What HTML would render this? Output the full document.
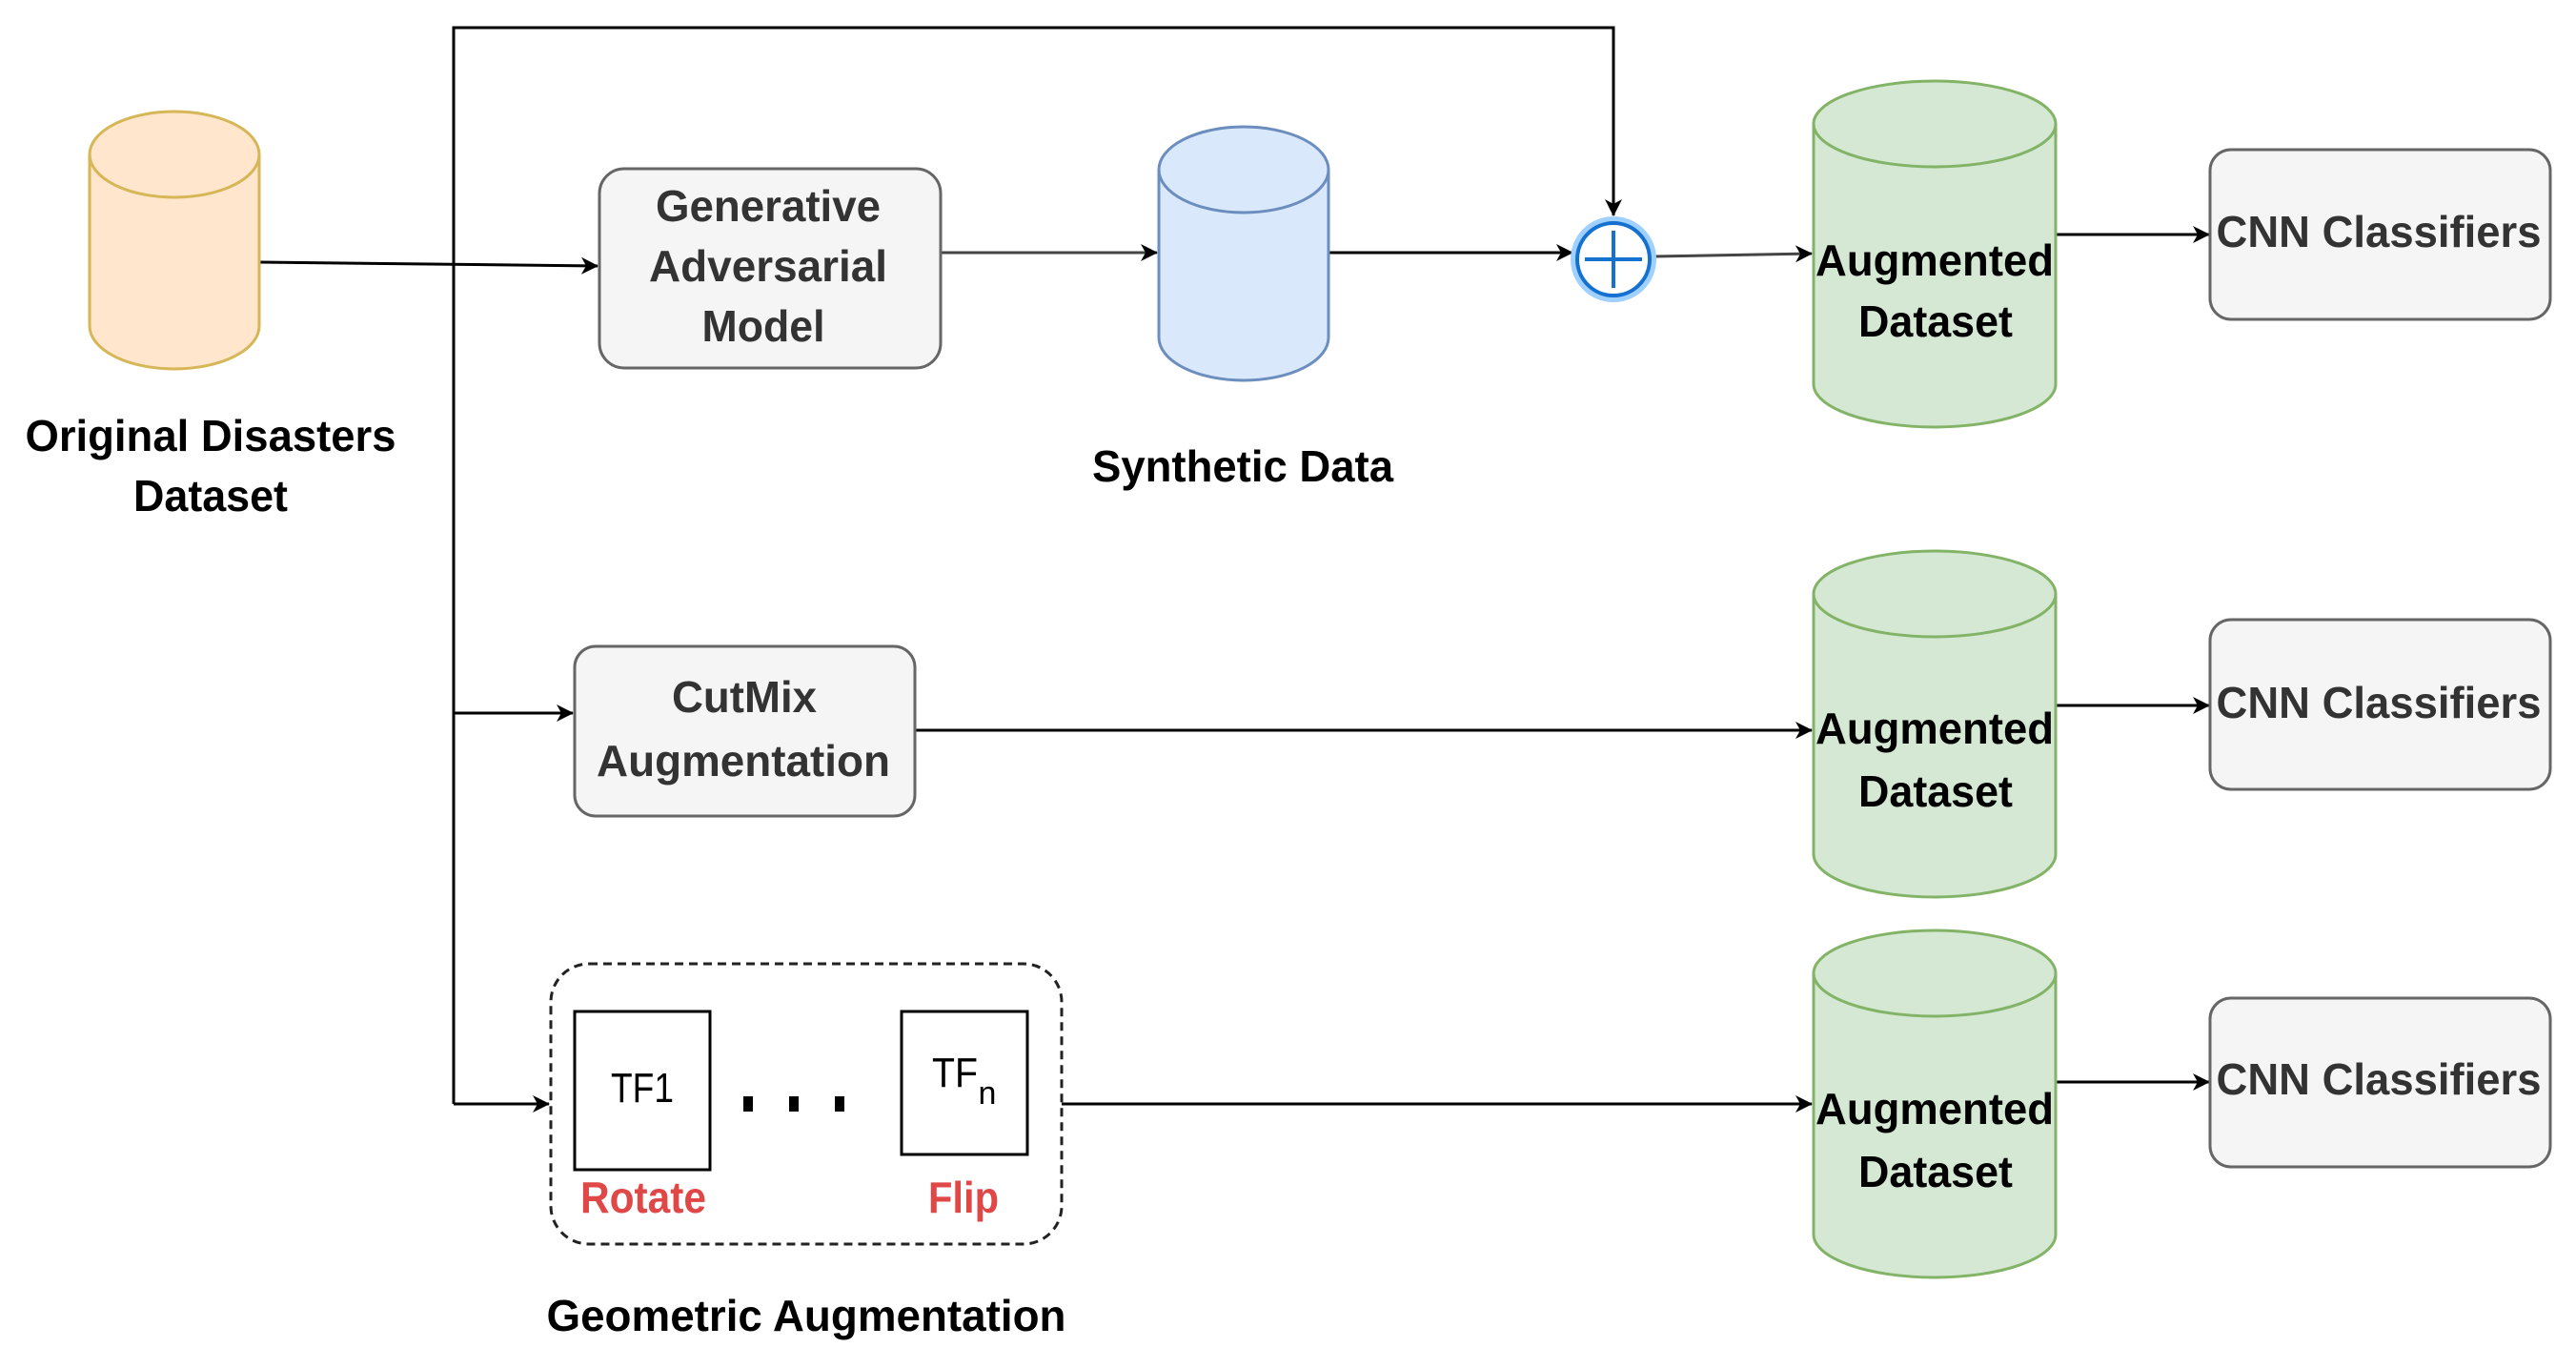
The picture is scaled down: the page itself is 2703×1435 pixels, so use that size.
<!DOCTYPE html>
<html><head><meta charset="utf-8"><style>
html,body{margin:0;padding:0;background:#fff;}
svg{display:block;}
text{font-family:"Liberation Sans",Arial,sans-serif;font-weight:bold;font-size:46px;}
</style></head><body>
<svg width="2703" height="1435" viewBox="0 0 2703 1435" xmlns="http://www.w3.org/2000/svg">
<defs>
<marker id="ar" markerWidth="10" markerHeight="10" refX="9" refY="5" orient="auto" markerUnits="userSpaceOnUse">
<path d="M0,0 L10,5 L0,10 L3,5 Z" fill="#000"/>
</marker>
<marker id="ar2" markerWidth="18" markerHeight="18" refX="17" refY="9" orient="auto" markerUnits="userSpaceOnUse">
<path d="M0,0 L18,9 L0,18 L5,9 Z" fill="#000"/>
</marker>
</defs>
<g stroke="#000" stroke-width="3" fill="none">
<!-- top loop -->
<polyline points="476,1158 476,29 1693,29 1693,226" marker-end="url(#ar2)"/>
<line x1="272" y1="275" x2="627" y2="279" marker-end="url(#ar2)"/>
<line x1="987" y1="265" x2="1214" y2="265" stroke="#444" marker-end="url(#ar2)"/>
<line x1="1394" y1="265" x2="1650" y2="265" marker-end="url(#ar2)"/>
<line x1="1735" y1="269" x2="1901" y2="266" stroke="#444" marker-end="url(#ar2)"/>
<line x1="2157" y1="246" x2="2318" y2="246" marker-end="url(#ar2)"/>
<line x1="476" y1="748" x2="601" y2="748" marker-end="url(#ar2)"/>
<line x1="960" y1="766" x2="1901" y2="766" marker-end="url(#ar2)"/>
<line x1="2157" y1="740" x2="2318" y2="740" marker-end="url(#ar2)"/>
<line x1="476" y1="1158" x2="576" y2="1158" marker-end="url(#ar2)"/>
<line x1="1114" y1="1158" x2="1901" y2="1158" marker-end="url(#ar2)"/>
<line x1="2157" y1="1135" x2="2318" y2="1135" marker-end="url(#ar2)"/>
</g>
<!-- orange cylinder -->
<path d="M94,162 L94,342 A89,45 0 0 0 272,342 L272,162 A89,45 0 0 0 94,162 Z" fill="#ffe6cc" stroke="#d6b656" stroke-width="3"/>
<path d="M94,162 A89,45 0 0 0 272,162" fill="none" stroke="#d6b656" stroke-width="3"/>
<!-- blue cylinder -->
<path d="M1216,178 L1216,354 A89,45 0 0 0 1394,354 L1394,178 A89,45 0 0 0 1216,178 Z" fill="#dae8fc" stroke="#6c8ebf" stroke-width="3"/>
<path d="M1216,178 A89,45 0 0 0 1394,178" fill="none" stroke="#6c8ebf" stroke-width="3"/>
<!-- green cylinders -->
<g fill="#d5e8d4" stroke="#82b366" stroke-width="3">
<path d="M1903,130 L1903,403 A127,45 0 0 0 2157,403 L2157,130 A127,45 0 0 0 1903,130 Z"/>
<path d="M1903,130 A127,45 0 0 0 2157,130" fill="none"/>
<path d="M1903,623 L1903,896 A127,45 0 0 0 2157,896 L2157,623 A127,45 0 0 0 1903,623 Z"/>
<path d="M1903,623 A127,45 0 0 0 2157,623" fill="none"/>
<path d="M1903,1021 L1903,1295 A127,45 0 0 0 2157,1295 L2157,1021 A127,45 0 0 0 1903,1021 Z"/>
<path d="M1903,1021 A127,45 0 0 0 2157,1021" fill="none"/>
</g>
<!-- plus circle -->
<circle cx="1693" cy="272" r="41" fill="#fff" stroke="#9fd0ff" stroke-width="8"/>
<circle cx="1693" cy="272" r="38" fill="#fff" stroke="#1571d0" stroke-width="4"/>
<line x1="1663" y1="272" x2="1723" y2="272" stroke="#1571d0" stroke-width="4"/>
<line x1="1693" y1="242" x2="1693" y2="302" stroke="#1571d0" stroke-width="4"/>
<!-- boxes -->
<g fill="#f5f5f5" stroke="#666" stroke-width="3">
<rect x="629" y="177" width="358" height="209" rx="26"/>
<rect x="603" y="678" width="357" height="178" rx="22"/>
<rect x="2319" y="157" width="357" height="178" rx="22"/>
<rect x="2319" y="650" width="357" height="178" rx="22"/>
<rect x="2319" y="1047" width="357" height="177" rx="22"/>
</g>
<rect x="578" y="1011" width="536" height="294" rx="40" fill="none" stroke="#222" stroke-width="3" stroke-dasharray="9,6"/>
<rect x="603" y="1061" width="142" height="166" fill="#fff" stroke="#000" stroke-width="3"/>
<rect x="946" y="1061" width="132" height="150" fill="#fff" stroke="#000" stroke-width="3"/>
<g fill="#000"><rect x="780" y="1150" width="10" height="16"/><rect x="828" y="1150" width="10" height="16"/><rect x="876" y="1150" width="10" height="16"/></g>
<!-- texts -->
<g text-anchor="middle" fill="#000">
<text x="221" y="473" textLength="389" lengthAdjust="spacingAndGlyphs">Original Disasters</text>
<text x="221" y="536" textLength="162" lengthAdjust="spacingAndGlyphs">Dataset</text>
<text x="1304" y="505" textLength="316" lengthAdjust="spacingAndGlyphs">Synthetic Data</text>
<text x="846" y="1396" textLength="545" lengthAdjust="spacingAndGlyphs">Geometric Augmentation</text>
</g>
<g text-anchor="middle" fill="#333">
<text x="806" y="232" textLength="236" lengthAdjust="spacingAndGlyphs">Generative</text>
<text x="806" y="295" textLength="250" lengthAdjust="spacingAndGlyphs">Adversarial</text>
<text x="801" y="358" textLength="129" lengthAdjust="spacingAndGlyphs">Model</text>
<text x="781" y="747" textLength="152" lengthAdjust="spacingAndGlyphs">CutMix</text>
<text x="780" y="814" textLength="308" lengthAdjust="spacingAndGlyphs">Augmentation</text>
<text x="2496" y="259" textLength="341" lengthAdjust="spacingAndGlyphs">CNN Classifiers</text>
<text x="2496" y="753" textLength="341" lengthAdjust="spacingAndGlyphs">CNN Classifiers</text>
<text x="2496" y="1148" textLength="341" lengthAdjust="spacingAndGlyphs">CNN Classifiers</text>
</g>
<g text-anchor="middle" fill="#000">
<text x="2030" y="289" textLength="250" lengthAdjust="spacingAndGlyphs">Augmented</text>
<text x="2031" y="353" textLength="162" lengthAdjust="spacingAndGlyphs">Dataset</text>
<text x="2030" y="780" textLength="250" lengthAdjust="spacingAndGlyphs">Augmented</text>
<text x="2031" y="846" textLength="162" lengthAdjust="spacingAndGlyphs">Dataset</text>
<text x="2030" y="1179" textLength="250" lengthAdjust="spacingAndGlyphs">Augmented</text>
<text x="2031" y="1245" textLength="162" lengthAdjust="spacingAndGlyphs">Dataset</text>
<text x="674" y="1156" style="font-weight:normal;font-size:44px" textLength="66" lengthAdjust="spacingAndGlyphs">TF1</text>
<text x="1002" y="1140" style="font-weight:normal;font-size:44px" textLength="48" lengthAdjust="spacingAndGlyphs">TF</text><text x="1036" y="1158" style="font-weight:normal;font-size:34px">n</text>
</g>
<g text-anchor="middle" fill="#e04848">
<text x="675" y="1272" textLength="132" lengthAdjust="spacingAndGlyphs">Rotate</text>
<text x="1011" y="1272" textLength="74" lengthAdjust="spacingAndGlyphs">Flip</text>
</g>
</svg>
</body></html>
